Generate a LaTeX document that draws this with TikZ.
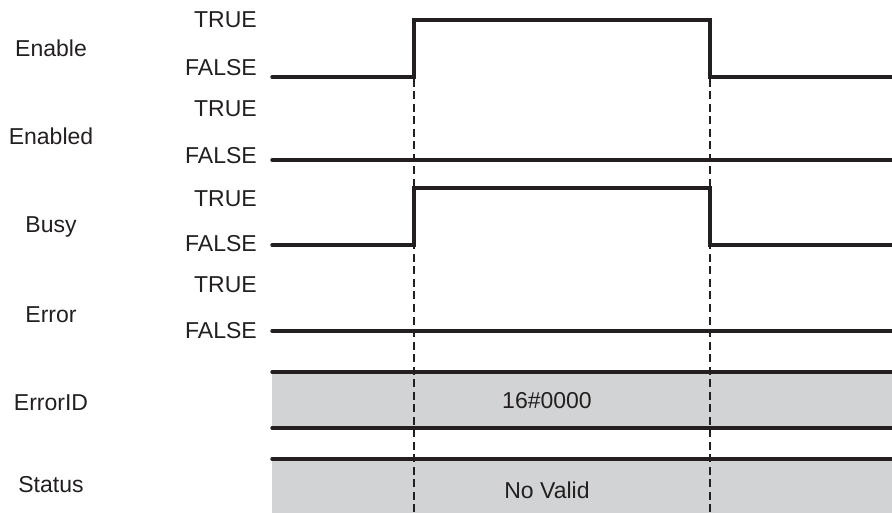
\documentclass[tikz,border=0pt]{standalone}
\usepackage{fontspec}
\setmainfont{Liberation Sans}
\usetikzlibrary{calc}
\definecolor{sigblack}{HTML}{231F20}
\definecolor{busgray}{HTML}{D1D3D4}

\begin{document}
\begin{tikzpicture}[
  x=1pt, y=-1pt,
  font=\fontsize{23}{27}\selectfont,
  signame/.style={anchor=base, inner sep=0pt, text=sigblack},
  level/.style={anchor=base east, inner sep=0pt, text=sigblack},
  busval/.style={anchor=base, inner sep=0pt, text=sigblack},
  wave/.style={draw=sigblack, line width=3.4pt, line cap=round},
  bus/.style={fill=busgray, draw=none},
  timing/.style={draw=sigblack, line width=2pt, dash pattern=on 8pt off 4.5pt}]
\useasboundingbox (0,0) rectangle (892,513);
% edge instants
\coordinate (t1) at (414,79);
\coordinate (t2) at (710,79);
% signal names
\node[signame] (enable) at (51,57) {Enable};
\node[signame] (enabled) at (51,145) {Enabled};
\node[signame] (busy) at (51,233) {Busy};
\node[signame] (error) at (51,322) {Error};
\node[signame] (errorid) at (51,410) {ErrorID};
\node[signame] (status) at (51,492) {Status};
% levels
\node[level] (en-t) at (257,28) {TRUE};
\node[level] (en-f) at (257,76) {FALSE};
\node[level] (ed-t) at (257,117) {TRUE};
\node[level] (ed-f) at (257,164) {FALSE};
\node[level] (bu-t) at (257,207) {TRUE};
\node[level] (bu-f) at (257,252) {FALSE};
\node[level] (er-t) at (257,292) {TRUE};
\node[level] (er-f) at (257,338) {FALSE};
% bus fields
\fill[bus] (272,372) rectangle (892,428);
\fill[bus] (272,459) rectangle (892,513);
\node[busval] (idval) at (547,408) {16\#0000};
\node[busval] (stval) at (547,498) {No Valid};
% timing marks
\draw[timing] (t1) -- (t1 |- 0,513);
\draw[timing] (t2) -- (t2 |- 0,513);
% waveforms
\draw[wave] (272,77) -- (414,77) -- (414,20) -- (710,20) -- (710,77) -- (892,77);
\draw[wave] (272,160) -- (892,160);
\draw[wave] (272,245) -- (414,245) -- (414,188) -- (710,188) -- (710,245) -- (892,245);
\draw[wave] (272,331) -- (892,331);
\draw[wave] (272,372) -- (892,372);
\draw[wave] (272,428) -- (892,428);
\draw[wave] (272,459) -- (892,459);
\end{tikzpicture}
\end{document}
